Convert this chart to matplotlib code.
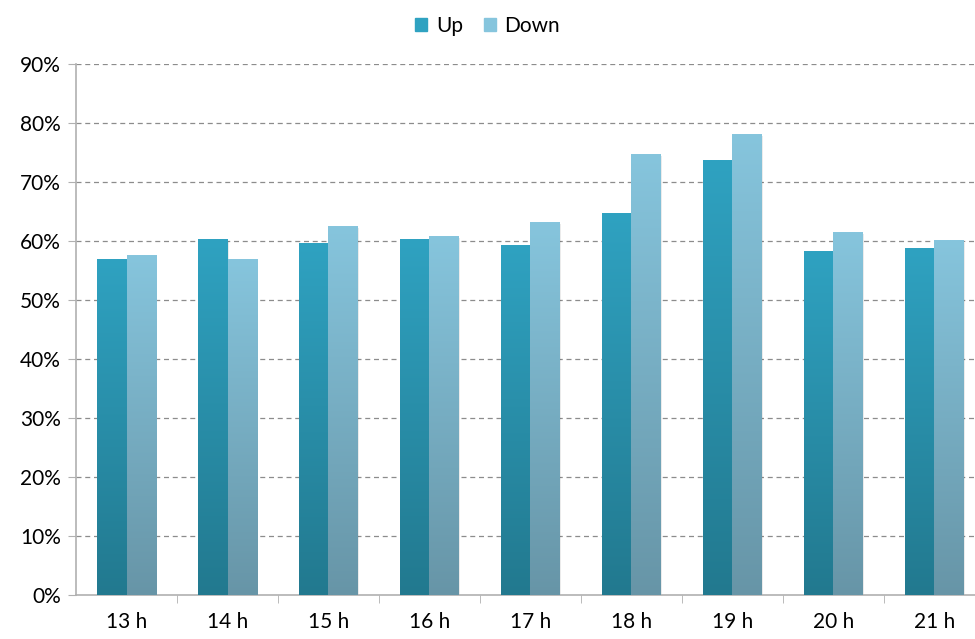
import matplotlib.pyplot as plt
import numpy as np
from matplotlib.patches import Rectangle
from matplotlib.ticker import FixedLocator

plt.rcParams['font.family'] = ['Lato', 'DejaVu Sans']

hours = ['13 h', '14 h', '15 h', '16 h', '17 h', '18 h', '19 h', '20 h', '21 h']
up = [56.9, 60.2, 59.5, 60.2, 59.3, 64.6, 73.6, 58.3, 58.8]
down = [57.5, 56.9, 62.5, 60.8, 63.1, 74.7, 78.0, 61.4, 60.0]

up_top, up_bot = '#2fa2c1', '#22798f'
down_top, down_bot = '#86c5dd', '#6795a7'


def gradient_bar(ax, x0, w, h, top, bot):
    # soft shadow to the right, then a vertical gradient fill
    ax.add_patch(Rectangle((x0 + 0.012, 0), w, h - 0.3, color='#000000',
                           alpha=0.08, lw=0, zorder=2))
    c_top = np.array(plt.matplotlib.colors.to_rgb(top))
    c_bot = np.array(plt.matplotlib.colors.to_rgb(bot))
    t = np.linspace(0, 1, 256)[:, None]
    img = (c_bot * (1 - t) + c_top * t)[:, None, :]
    ax.imshow(img, extent=(x0, x0 + w, 0, h), origin='lower',
              aspect='auto', zorder=3, interpolation='bilinear')


fig = plt.figure(figsize=(9.75, 6.39), dpi=100)
# the axes run a little past the right edge of the figure
ax = fig.add_axes([0.078, 0.069, 0.932, 0.831])

x = np.arange(len(hours))
w = 0.29
for i in x:
    gradient_bar(ax, i - w, w, up[i], up_top, up_bot)
    gradient_bar(ax, i, w, down[i], down_top, down_bot)

ax.set_xlim(-0.5, len(hours) - 0.5)
ax.set_ylim(0, 90)
ax.set_yticks(np.arange(0, 91, 10))
ax.set_yticklabels([f'{v}%' for v in range(0, 91, 10)], fontsize=15)
ax.set_xticks(x)
ax.set_xticklabels(hours, fontsize=15)
ax.xaxis.set_minor_locator(FixedLocator(np.arange(0.5, len(hours) - 0.5, 1)))
ax.tick_params(axis='x', which='major', length=0, pad=12)
ax.tick_params(axis='x', which='minor', length=6, color='#b0b0b0')
ax.tick_params(axis='y', length=6, color='#b0b0b0', pad=5)

for v in range(10, 91, 10):
    ax.axhline(v, color='#8c8c8c', lw=0.9, ls=(0, (4, 3)), zorder=1)

for s in ['top', 'right']:
    ax.spines[s].set_visible(False)
for s in ['left', 'bottom']:
    ax.spines[s].set_color('#b0b0b0')
    ax.spines[s].set_linewidth(1.2)

handles = [Rectangle((0, 0), 1, 1, color=up_top), Rectangle((0, 0), 1, 1, color=down_top)]
fig.legend(handles, ['Up', 'Down'], loc='upper center', bbox_to_anchor=(0.5, 1.005),
           ncol=2, frameon=False, fontsize=15, handlelength=0.6, handleheight=0.6,
           handletextpad=0.4, columnspacing=1.0)

fig.savefig('out.png', dpi=100)
